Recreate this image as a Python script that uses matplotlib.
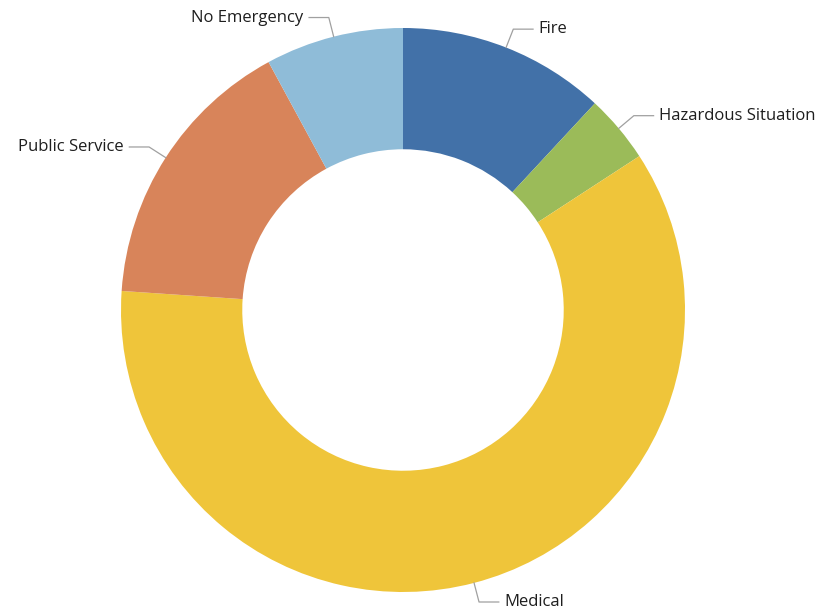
import numpy as np
import matplotlib.pyplot as plt

labels = ["Fire", "Hazardous Situation", "Medical", "Public Service", "No Emergency"]
values = [11.9, 3.9, 60.2, 16.0, 7.9]
colors = ["#4271a8", "#9bbb59", "#efc53a", "#d8845a", "#8fbcd8"]

plt.rcParams['font.family'] = ['Open Sans', 'DejaVu Sans']

fig = plt.figure(figsize=(8.22, 6.13), dpi=100)
# axes box sized so radius 1 maps to ~282 px, center at (403, 310)
ax = fig.add_axes([121 / 822, 21 / 613, 564 / 822, 564 / 613])

wedges, _ = ax.pie(values, colors=colors, startangle=90, counterclock=False,
                   radius=1, wedgeprops=dict(width=0.43, edgecolor='none'))
ax.set_xlim(-1, 1)
ax.set_ylim(-1, 1)
ax.set_aspect('equal')
ax.axis('off')

# leader lines + labels
for w, lab in zip(wedges, labels):
    ang = np.deg2rad((w.theta1 + w.theta2) / 2)
    x0, y0 = np.cos(ang), np.sin(ang)
    x1, y1 = 1.07 * x0, 1.07 * y0
    side = 1 if x0 >= 0 else -1
    x2 = x1 + side * 0.07
    ax.plot([x0, x1, x2], [y0, y1, y1], color='#a0a0a0', lw=0.9, clip_on=False)
    ax.text(x2 + side * 0.02, y1, lab, ha='left' if side > 0 else 'right',
            va='center', fontsize=12, color='#1e1e1e', clip_on=False)

fig.savefig("out.png", dpi=100)
